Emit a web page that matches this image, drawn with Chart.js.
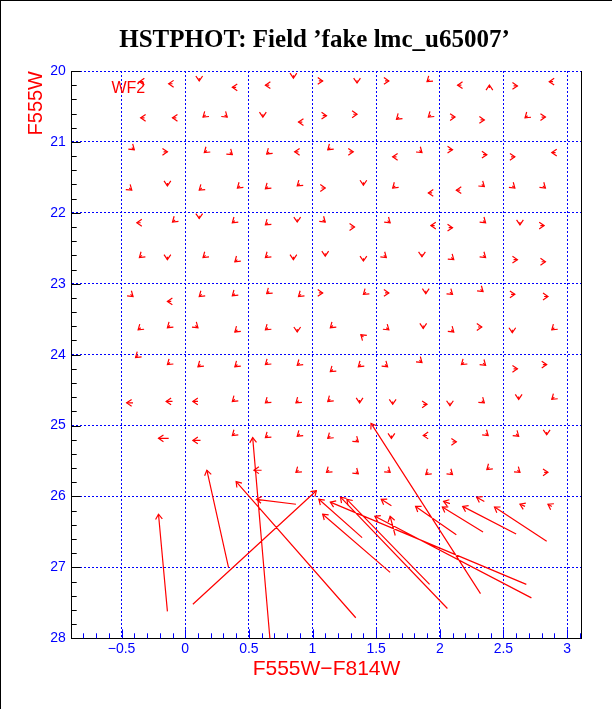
<!DOCTYPE html>
<html>
<head>
<meta charset="utf-8">
<script src="https://cdn.jsdelivr.net/npm/chart.js@4.4.1/dist/chart.umd.min.js"></script>
<style>
	html, body { margin: 0; padding: 0; background: #fff; }
</style>
</head>
<body>
<canvas id="graficoFlechasCanvas" width="612" height="709"></canvas>
<script>
//Textos
const tituloGrafico = 'HSTPHOT: Field ’fake lmc_u65007’'
const etiquetaX = 'F555W−F814W'
const etiquetaY = 'F555W'
const etiquetaChip = 'WF2'

//Estrellas falsas: color y magnitud de entrada (cola de la flecha)
const colorEntrada = [
	-0.33, -0.10, 0.11, 0.40, 0.66, 0.85, 1.05, 1.35, 1.57, 1.92, 2.17, 2.39, 2.58, 2.89,
	-0.32, -0.07, 0.16, 0.31, 0.61, 0.92, 1.08, 1.32, 1.68, 1.93, 2.09, 2.32, 2.69, 2.80,
	-0.42, -0.17, 0.17, 0.35, 0.66, 0.89, 1.14, 1.29, 1.66, 1.84, 2.07, 2.34, 2.56, 2.91,
	-0.44, -0.14, 0.13, 0.43, 0.65, 0.90, 1.07, 1.40, 1.65, 1.94, 2.16, 2.33, 2.57, 2.81,
	-0.35, -0.08, 0.11, 0.39, 0.65, 0.88, 1.08, 1.30, 1.59, 1.96, 2.07, 2.34, 2.63, 2.79,
	-0.34, -0.14, 0.16, 0.41, 0.65, 0.85, 1.10, 1.40, 1.56, 1.86, 2.09, 2.34, 2.58, 2.80,
	-0.43, -0.11, 0.13, 0.39, 0.66, 0.91, 1.05, 1.42, 1.57, 1.89, 2.08, 2.32, 2.56, 2.82,
	-0.35, -0.12, 0.08, 0.41, 0.65, 0.88, 1.16, 1.40, 1.58, 1.87, 2.09, 2.30, 2.57, 2.90,
	-0.37, -0.12, 0.12, 0.41, 0.65, 0.90, 1.16, 1.38, 1.57, 1.84, 2.19, 2.34, 2.58, 2.81,
	-0.41, -0.10, 0.10, 0.39, 0.65, 0.89, 1.14, 1.37, 1.63, 1.87, 2.08, 2.33, 2.62, 2.90,
	-0.13, 0.12, 0.39, 0.65, 0.90, 1.14, 1.34, 1.62, 1.90, 2.10, 2.36, 2.60, 2.84,
	0.60, 0.89, 1.13, 1.34, 1.59, 1.91, 2.08, 2.39, 2.61, 2.82,
	0.87, 1.62, 2.08, 2.35, 2.67, 2.88, 1.65,
	-0.14, 0.34, 0.06, 1.34, 0.67, 2.32, 1.39, 1.61, 2.68, 2.06, 1.92, 2.72, 2.13, 2.34, 2.60, 2.84
]
const magEntrada = [
	20.15, 20.18, 20.10, 20.23, 20.20, 20.06, 20.14, 20.13, 20.14, 20.12, 20.20, 20.24, 20.21, 20.15,
	20.66, 20.66, 20.62, 20.62, 20.61, 20.72, 20.63, 20.61, 20.65, 20.62, 20.65, 20.69, 20.63, 20.65,
	21.08, 21.14, 21.12, 21.15, 21.14, 21.14, 21.08, 21.14, 21.21, 21.12, 21.11, 21.18, 21.21, 21.15,
	21.65, 21.58, 21.65, 21.62, 21.63, 21.59, 21.65, 21.57, 21.62, 21.72, 21.68, 21.60, 21.62, 21.62,
	22.14, 22.10, 22.04, 22.11, 22.14, 22.09, 22.10, 22.20, 22.11, 22.18, 22.21, 22.11, 22.13, 22.18,
	22.60, 22.62, 22.60, 22.66, 22.60, 22.62, 22.57, 22.64, 22.60, 22.58, 22.63, 22.60, 22.66, 22.69,
	23.15, 23.25, 23.15, 23.14, 23.11, 23.15, 23.13, 23.12, 23.13, 23.10, 23.12, 23.08, 23.15, 23.18,
	23.62, 23.59, 23.59, 23.65, 23.62, 23.64, 23.59, 23.75, 23.62, 23.59, 23.65, 23.61, 23.65, 23.62,
	24.01, 24.11, 24.14, 24.14, 24.11, 24.12, 24.21, 24.14, 24.14, 24.08, 24.11, 24.12, 24.20, 24.14,
	24.68, 24.66, 24.66, 24.63, 24.65, 24.65, 24.63, 24.64, 24.66, 24.70, 24.68, 24.65, 24.59, 24.60,
	25.18, 25.21, 25.11, 25.14, 25.12, 25.15, 25.20, 25.14, 25.14, 25.23, 25.11, 25.12, 25.09,
	25.63, 25.63, 25.63, 25.65, 25.63, 25.66, 25.66, 25.59, 25.63, 25.66,
	26.11, 26.13, 26.10, 26.07, 26.14, 26.14, 26.55,
	27.62, 27.00, 27.52, 27.71, 28.10, 27.37, 26.58, 27.07, 27.24, 27.58, 27.24, 27.43, 26.54, 26.50, 26.53, 26.63
]

//Color y magnitud medidos (punta de la flecha)
const colorSalida = [
	-0.36, -0.13, 0.11, 0.37, 0.63, 0.85, 1.08, 1.35, 1.60, 1.90, 2.14, 2.39, 2.61, 2.86,
	-0.35, -0.10, 0.14, 0.33, 0.61, 0.89, 1.11, 1.35, 1.66, 1.91, 2.12, 2.35, 2.67, 2.83,
	-0.40, -0.14, 0.15, 0.37, 0.64, 0.86, 1.12, 1.32, 1.63, 1.86, 2.10, 2.37, 2.59, 2.88,
	-0.42, -0.14, 0.11, 0.41, 0.63, 0.88, 1.10, 1.40, 1.63, 1.91, 2.13, 2.35, 2.59, 2.83,
	-0.38, -0.10, 0.11, 0.37, 0.63, 0.88, 1.10, 1.33, 1.61, 1.93, 2.10, 2.36, 2.63, 2.82,
	-0.36, -0.14, 0.14, 0.39, 0.63, 0.85, 1.10, 1.40, 1.58, 1.86, 2.11, 2.36, 2.61, 2.83,
	-0.41, -0.14, 0.11, 0.37, 0.64, 0.89, 1.08, 1.40, 1.60, 1.89, 2.10, 2.34, 2.59, 2.85,
	-0.37, -0.14, 0.10, 0.39, 0.63, 0.88, 1.14, 1.38, 1.60, 1.87, 2.11, 2.33, 2.57, 2.88,
	-0.39, -0.14, 0.10, 0.39, 0.63, 0.88, 1.14, 1.36, 1.59, 1.86, 2.17, 2.36, 2.61, 2.84,
	-0.46, -0.15, 0.06, 0.37, 0.63, 0.87, 1.12, 1.37, 1.63, 1.90, 2.08, 2.35, 2.62, 2.88,
	-0.21, 0.06, 0.37, 0.63, 0.88, 1.12, 1.36, 1.62, 1.87, 2.13, 2.38, 2.62, 2.84,
	0.54, 0.87, 1.11, 1.36, 1.61, 1.89, 2.10, 2.37, 2.63, 2.85,
	0.56, 1.54, 2.03, 2.29, 2.63, 2.85, 1.61,
	-0.21, 0.17, 1.03, 0.40, 0.53, 1.46, 1.05, 1.08, 1.14, 1.22, 1.27, 1.49, 1.81, 2.02, 2.18, 2.43
]
const magSalida = [
	20.15, 20.18, 20.14, 20.23, 20.20, 20.10, 20.14, 20.17, 20.14, 20.15, 20.20, 20.20, 20.21, 20.15,
	20.66, 20.66, 20.65, 20.65, 20.65, 20.72, 20.63, 20.61, 20.68, 20.65, 20.65, 20.69, 20.66, 20.65,
	21.11, 21.14, 21.15, 21.18, 21.17, 21.14, 21.11, 21.14, 21.21, 21.15, 21.11, 21.18, 21.21, 21.15,
	21.68, 21.62, 21.68, 21.65, 21.66, 21.62, 21.65, 21.61, 21.65, 21.72, 21.68, 21.63, 21.65, 21.65,
	22.14, 22.13, 22.08, 22.14, 22.17, 22.13, 22.13, 22.20, 22.14, 22.18, 22.21, 22.14, 22.17, 22.18,
	22.63, 22.66, 22.63, 22.69, 22.63, 22.66, 22.61, 22.68, 22.63, 22.62, 22.66, 22.63, 22.66, 22.69,
	23.18, 23.25, 23.18, 23.17, 23.14, 23.18, 23.13, 23.15, 23.13, 23.14, 23.15, 23.11, 23.15, 23.18,
	23.65, 23.62, 23.62, 23.68, 23.65, 23.68, 23.62, 23.72, 23.65, 23.63, 23.68, 23.61, 23.69, 23.65,
	24.04, 24.14, 24.17, 24.17, 24.14, 24.15, 24.24, 24.17, 24.17, 24.11, 24.14, 24.15, 24.20, 24.14,
	24.68, 24.66, 24.66, 24.66, 24.68, 24.68, 24.66, 24.68, 24.70, 24.70, 24.72, 24.68, 24.63, 24.63,
	25.18, 25.21, 25.14, 25.17, 25.15, 25.18, 25.23, 25.18, 25.14, 25.23, 25.14, 25.15, 25.13,
	25.63, 25.66, 25.66, 25.68, 25.66, 25.69, 25.69, 25.62, 25.66, 25.66,
	26.04, 26.04, 26.07, 26.01, 26.11, 26.11, 26.28,
	26.25, 25.63, 25.92, 25.79, 25.17, 24.97, 26.04, 26.25, 26.08, 26.01, 26.04, 26.28, 26.14, 26.15, 26.14, 26.15
]

//Colores
const azul = '#0000ff'
const rojo = '#ff0000'
const transparente = 'rgba(0,0,0,0)'

const esMultiplo = (v, paso) => Math.abs(v / paso - Math.round(v / paso)) < 1e-6
const textoTick = (v) => {
	let r = Math.round(v * 2) / 2
	return r < 0 ? '−' + Math.abs(r) : String(r)
}

//Segmentos: cola -> punta, separados con un hueco
const segmentos = []
colorEntrada.forEach((c, i) => {
	segmentos.push({x: c, y: magEntrada[i]})
	segmentos.push({x: colorSalida[i], y: magSalida[i]})
	segmentos.push({x: colorSalida[i], y: null})
})

//Fondo y marco de la imagen
const fondoPlugin = {
	id: 'fondo',
	beforeDraw(chart) {
		let ctx = chart.ctx
		ctx.save()
		ctx.fillStyle = '#fff'
		ctx.fillRect(0, 0, chart.width, chart.height)
		ctx.fillStyle = '#000'
		ctx.fillRect(0, 0, 1, chart.height)
		ctx.fillRect(0, 0, chart.width, 1)
		ctx.restore()
	}
}

//Marcas hacia dentro en los ejes
const marcasPlugin = {
	id: 'marcas',
	beforeDatasetsDraw(chart) {
		const {ctx, chartArea, scales} = chart
		ctx.save()
		ctx.lineWidth = 1
		ctx.strokeStyle = azul
		scales.x.ticks.forEach(t => {
			let px = Math.round(scales.x.getPixelForValue(t.value)) + 0.5
			let largo = esMultiplo(t.value, 0.5) ? 9 : 5
			ctx.beginPath()
			ctx.moveTo(px, chartArea.bottom)
			ctx.lineTo(px, chartArea.bottom - largo)
			ctx.stroke()
		})
		ctx.strokeStyle = '#000'
		scales.y.ticks.forEach(t => {
			let py = Math.round(scales.y.getPixelForValue(t.value)) + 0.5
			let largo = esMultiplo(t.value, 1) ? 9 : 5
			ctx.beginPath()
			ctx.moveTo(chartArea.left, py)
			ctx.lineTo(chartArea.left + largo, py)
			ctx.stroke()
		})
		ctx.restore()
	}
}

//Puntas de flecha y textos
const puntasPlugin = {
	id: 'puntas',
	afterDatasetsDraw(chart) {
		const {ctx, chartArea, scales} = chart
		ctx.save()
		ctx.beginPath()
		ctx.rect(chartArea.left, chartArea.top, chartArea.right - chartArea.left, chartArea.bottom - chartArea.top)
		ctx.clip()
		ctx.strokeStyle = rojo
		ctx.lineWidth = 1.2
		for (let i = 0; i < colorSalida.length; i++) {
			let x0 = scales.x.getPixelForValue(colorEntrada[i])
			let y0 = scales.y.getPixelForValue(magEntrada[i])
			let x1 = scales.x.getPixelForValue(colorSalida[i])
			let y1 = scales.y.getPixelForValue(magSalida[i])
			let ang = Math.atan2(y1 - y0, x1 - x0)
			ctx.beginPath()
			ctx.moveTo(x1 + 6 * Math.cos(ang + Math.PI - 0.6), y1 + 6 * Math.sin(ang + Math.PI - 0.6))
			ctx.lineTo(x1, y1)
			ctx.lineTo(x1 + 6 * Math.cos(ang + Math.PI + 0.6), y1 + 6 * Math.sin(ang + Math.PI + 0.6))
			ctx.stroke()
		}
		//Etiqueta del chip
		ctx.fillStyle = rojo
		ctx.font = '16px "Liberation Sans"'
		ctx.textAlign = 'left'
		ctx.textBaseline = 'middle'
		ctx.fillText(etiquetaChip, scales.x.getPixelForValue(-0.58), scales.y.getPixelForValue(20.25))
		ctx.restore()
	},
	afterDraw(chart) {
		const {ctx, chartArea} = chart
		ctx.save()
		ctx.translate(36, chartArea.top)
		ctx.rotate(-Math.PI / 2)
		ctx.fillStyle = rojo
		ctx.font = '20px "Liberation Sans"'
		ctx.textAlign = 'right'
		ctx.textBaseline = 'middle'
		ctx.fillText(etiquetaY, 0, 0)
		ctx.restore()
	}
}

const generarGraficoFlechas = () => {
	let canvas = document.getElementById('graficoFlechasCanvas')
	let grafico = new Chart(canvas, {
		type: 'line',
		data: {
			datasets: [{
				data: segmentos,
				borderColor: rojo,
				borderWidth: 1.2,
				pointRadius: 0,
				tension: 0,
				spanGaps: false
			}]
		},
		options: {
			responsive: false,
			animation: false,
			devicePixelRatio: 1,
			layout: { padding: { left: 17, right: 0, top: 0, bottom: 0 } },
			scales: {
				x: {
					type: 'linear',
					min: -0.892,
					max: 3.112,
					ticks: {
						stepSize: 0.1,
						autoSkip: false,
						includeBounds: false,
						maxRotation: 0,
						padding: 2,
						color: azul,
						font: { family: 'Liberation Sans', size: 14 },
						callback: (v) => esMultiplo(v, 0.5) ? textoTick(v) : ''
					},
					grid: {
						drawTicks: false,
						lineWidth: 1,
						color: (c) => (c.tick && esMultiplo(c.tick.value, 0.5)) ? azul : transparente
					},
					border: { color: '#000', width: 1, dash: [2, 2] },
					title: {
						display: true,
						text: etiquetaX,
						color: rojo,
						font: { family: 'Liberation Sans', size: 21 },
						padding: { top: 0, bottom: 27 }
					},
					afterFit: (s) => { s.height = 70.7 }
				},
				y: {
					type: 'linear',
					reverse: true,
					min: 20,
					max: 28,
					ticks: {
						stepSize: 0.2,
						autoSkip: false,
						padding: 6,
						color: azul,
						font: { family: 'Liberation Sans', size: 14 },
						callback: (v) => esMultiplo(v, 1) ? String(Math.round(v)) : ''
					},
					grid: {
						drawTicks: false,
						lineWidth: 1,
						color: (c) => (c.tick && esMultiplo(c.tick.value, 1)) ? azul : transparente
					},
					border: { color: '#000', width: 1, dash: [2, 2] },
					afterFit: (s) => { s.width = 54.7 }
				},
				y2: {
					type: 'linear',
					position: 'right',
					min: 20,
					max: 28,
					ticks: { display: false },
					grid: { drawOnChartArea: false, drawTicks: false },
					border: { display: true, color: '#000', width: 1 },
					afterFit: (s) => { s.width = 30.7 }
				}
			},
			plugins: {
				legend: { display: false },
				tooltip: { enabled: false },
				title: {
					display: true,
					text: tituloGrafico,
					color: '#000',
					font: { family: 'Liberation Serif', size: 25, weight: 'bold' },
					padding: { top: 26, bottom: 15 }
				}
			}
		},
		plugins: [fondoPlugin, marcasPlugin, puntasPlugin]
	})
}

generarGraficoFlechas()
</script>
</body>
</html>
